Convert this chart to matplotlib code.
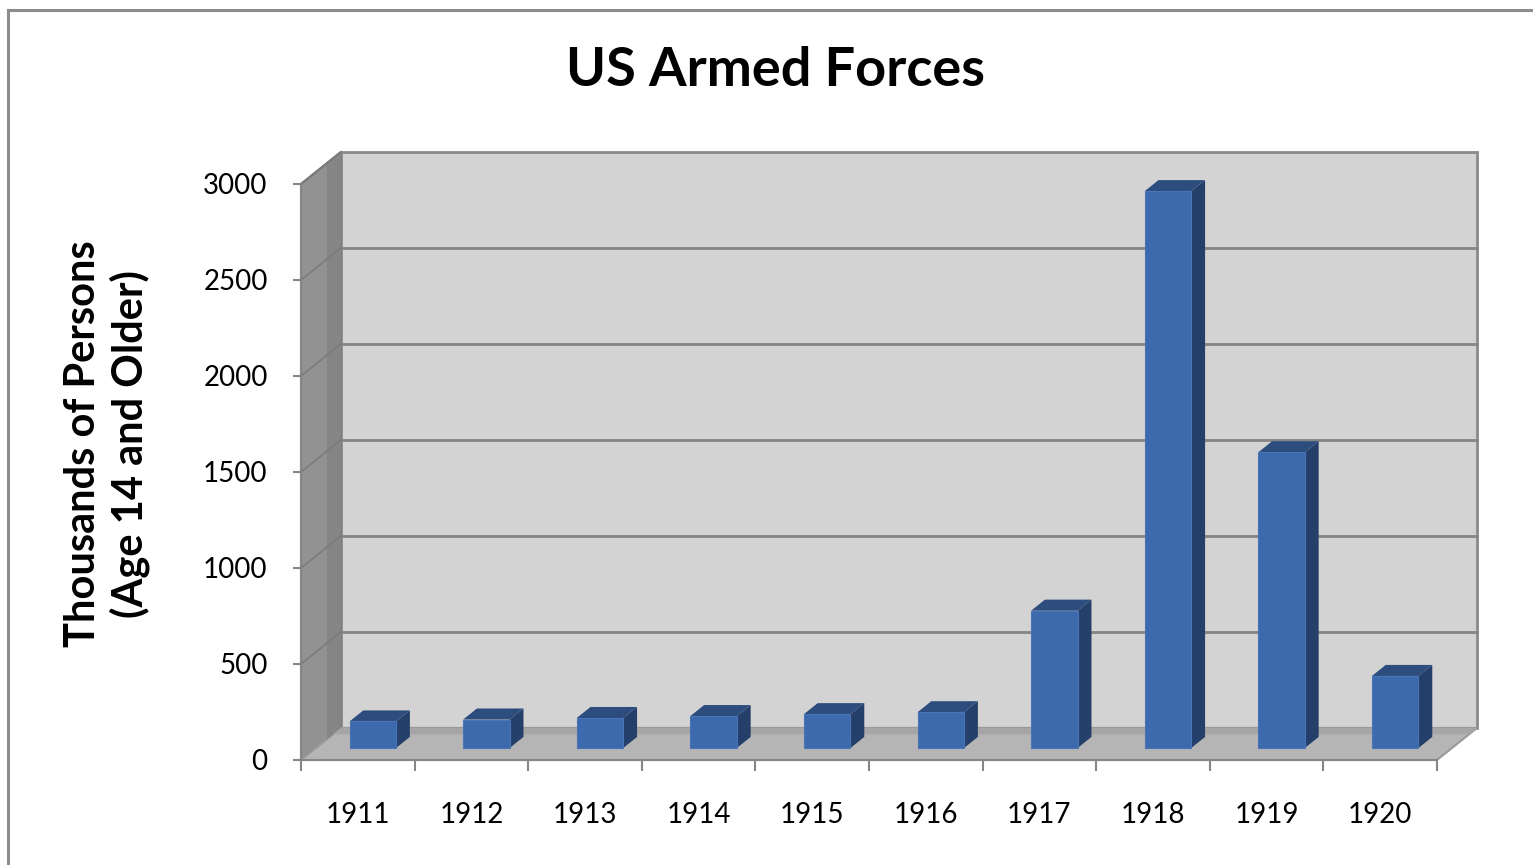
import matplotlib.pyplot as plt
from matplotlib.patches import Polygon, Rectangle
import numpy as np

plt.rcParams["font.family"] = ["Lato", "DejaVu Sans"]

# data
years = ["1911", "1912", "1913", "1914", "1915", "1916", "1917", "1918", "1919", "1920"]
forces = [138, 148, 156, 166, 176, 186, 715, 2900, 1540, 375]
yticks = [0, 500, 1000, 1500, 2000, 2500, 3000]

# 3d look
DX = 0.352    # depth offset in category units
DY = 167      # depth offset in value units
F0, F1 = 0.375, 0.72   # bar front/back depth fraction
W = 0.41      # bar width

fig = plt.figure(figsize=(15.33, 8.65), dpi=100)
fig.patch.set_facecolor("white")

ax = fig.add_axes([301/1533, (865-760)/865, 1136/1533, 576/865])
ax.set_xlim(0, len(years))
ax.set_ylim(0, 3000)
ax.set_facecolor("none")
n = len(years)
top = yticks[-1]

# back wall
ax.add_patch(Polygon([(DX, DY), (n+DX, DY), (n+DX, top+DY), (DX, top+DY)],
                     closed=True, fc="#d3d3d3", ec="#8a8a8a", lw=2, clip_on=False, zorder=1))
# side wall (simple two-tone gradient)
ax.add_patch(Polygon([(0, 0), (DX, DY), (DX, top+DY), (0, top)],
                     closed=True, fc="#929292", ec="#808080", lw=1.5, clip_on=False, zorder=1))
ax.add_patch(Polygon([(DX*0.65, DY*0.65), (DX, DY), (DX, top+DY), (DX*0.65, top+DY*0.65)],
                     closed=True, fc="#858585", ec="none", clip_on=False, zorder=1.1))
# floor
ax.add_patch(Polygon([(0, 0), (n, 0), (n+DX, DY), (DX, DY)],
                     closed=True, fc="#b5b5b5", ec="#9a9a9a", lw=1.5, clip_on=False, zorder=1))
ax.add_patch(Polygon([(DX*0.8, DY*0.8), (n+DX*0.8, DY*0.8), (n+DX, DY), (DX, DY)],
                     closed=True, fc="#a6a6a6", ec="none", clip_on=False, zorder=1.1))

# gridlines on back wall and side wall
for v in yticks[1:-1]:
    ax.plot([DX, n+DX], [v+DY, v+DY], color="#858585", lw=2, clip_on=False, zorder=1.2)
    ax.plot([0, DX], [v, v+DY], color="#7a7a7a", lw=1.2, clip_on=False, zorder=1.2)
ax.plot([0, DX], [top, top+DY], color="#7a7a7a", lw=1.5, clip_on=False, zorder=1.2)

# bars
for i, v in enumerate(forces):
    x0 = i + 0.5 - W/2 + F0*DX
    y0 = F0*DY
    ox = (F1-F0)*DX
    oy = (F1-F0)*DY
    ax.add_patch(Polygon([(x0+W, y0), (x0+W+ox, y0+oy), (x0+W+ox, y0+oy+v), (x0+W, y0+v)],
                         closed=True, fc="#243f69", ec="none", clip_on=False, zorder=3))
    ax.add_patch(Polygon([(x0, y0+v), (x0+W, y0+v), (x0+W+ox, y0+v+oy), (x0+ox, y0+v+oy)],
                         closed=True, fc="#2c4d7e", ec="none", clip_on=False, zorder=3))
    ax.add_patch(Rectangle((x0, y0), W, v, fc="#3d69ad", ec="#4a74b4", lw=0.8,
                           clip_on=False, zorder=3))

# axes lines and ticks
for s in ["top", "right"]:
    ax.spines[s].set_visible(False)
ax.spines["left"].set_color("#868686")
ax.spines["bottom"].set_color("#868686")
ax.spines["left"].set_linewidth(1.5)
ax.spines["bottom"].set_linewidth(1.5)
ax.set_yticks(yticks)
ax.set_yticklabels([str(t) for t in yticks], fontsize=20)
ax.tick_params(axis="y", length=6, width=1.5, color="#868686", pad=18)
ax.set_xticks(np.arange(n+1))
ax.set_xticklabels([])
ax.set_xticks(np.arange(n) + 0.5, minor=True)
ax.set_xticklabels(years, minor=True, fontsize=20)
ax.tick_params(axis="x", which="major", length=8, width=1.5, color="#868686")
ax.tick_params(axis="x", which="minor", length=0, pad=30)

fig.text(775/1533, 1-70/865, "US Armed Forces", ha="center", va="center",
         fontsize=39, fontweight="bold")
fig.text(107/1533, 1-444/865, "Thousands of Persons\n(Age 14 and Older)", ha="center",
         va="center", rotation=90, fontsize=30, fontweight="bold",
         multialignment="center", linespacing=1.2)

# chart border
fig.add_artist(Rectangle((7.5/1533, -0.1), 1.2, 1-9.5/865+0.1, transform=fig.transFigure,
                         fc="none", ec="#8c8c8c", lw=2.2))

fig.savefig("out.png", dpi=100)
